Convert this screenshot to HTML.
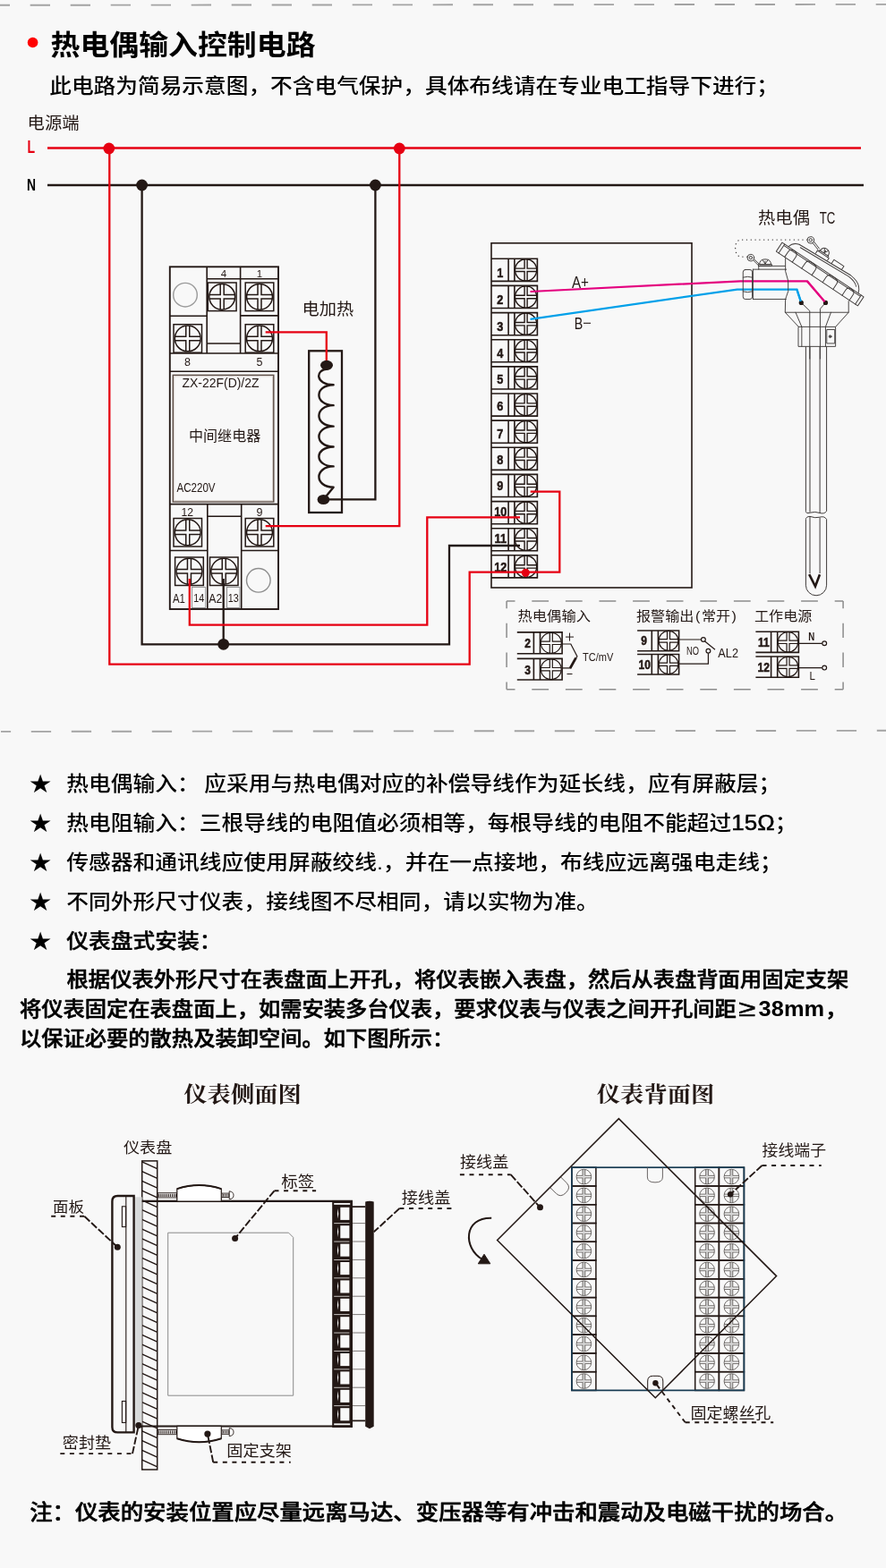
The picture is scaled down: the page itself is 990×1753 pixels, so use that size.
<!DOCTYPE html>
<html lang="zh-CN">
<head>
<meta charset="utf-8">
<title>热电偶输入控制电路</title>
<style>
html,body{margin:0;padding:0;background:#f8f8f8;}
body{width:990px;height:1753px;overflow:hidden;position:relative;font-family:"Liberation Sans","Noto Sans CJK SC",sans-serif;}
svg{position:absolute;left:0;top:0;display:block;}
text{white-space:pre;}
svg{will-change:transform;}
</style>
</head>
<body>
<svg width="990" height="1753" viewBox="0 0 990 1753">
<rect x="0" y="0" width="990" height="1753" fill="#f8f8f8"/>
<line x1="-11.3" y1="5.8" x2="990" y2="4.85" stroke="#a3a3a3" stroke-width="1.9" stroke-dasharray="22.3 22.7"/>
<line x1="1" y1="817.9" x2="990" y2="816.8" stroke="#a3a3a3" stroke-width="1.9" stroke-dasharray="22.3 22.7" stroke-dashoffset="11.2"/>
<circle cx="36.6" cy="47.5" r="5.8" fill="#ff0000"/>
<text transform="translate(56.5 61.2) scale(1 0.945)" font-size="32.9" font-weight="700" fill="#000" font-family='"Liberation Sans","Noto Sans CJK SC",sans-serif' text-anchor="start" >热电偶输入控制电路</text>
<text transform="translate(55.2 103.9) scale(1 0.905)" font-size="24.7" font-weight="500" fill="#000" font-family='"Liberation Sans","Noto Sans CJK SC",sans-serif' text-anchor="start" >此电路为简易示意图，不含电气保护，具体布线请在专业电工指导下进行；</text>
<text transform="translate(30.6 144) scale(1.04 1)" font-size="18.6" font-weight="400" fill="#231815" font-family='"Liberation Sans","Noto Sans CJK SC",sans-serif' text-anchor="start" >电源端</text>
<text x="30.6" y="171" font-size="19.5" font-weight="700" fill="#e60012" font-family='"Liberation Sans","Noto Sans CJK SC",sans-serif' text-anchor="start" textLength="8.6" lengthAdjust="spacingAndGlyphs" >L</text>
<text x="30" y="213.2" font-size="19" font-weight="700" fill="#000" font-family='"Liberation Sans","Noto Sans CJK SC",sans-serif' text-anchor="start" textLength="10" lengthAdjust="spacingAndGlyphs" >N</text>
<g fill="none">
<rect x="189.8" y="298.3" width="121.2" height="382.7" stroke="#231815" stroke-width="1.9" fill="none" />
<path d="M231.2 298.3V395 M268.6 298.3V395 M231.2 311.7H311 M189.8 353.3H231.2 M268.6 352.9H311 M231.2 384H268.6 M189.8 395H311 M189.8 415.3H311" stroke="#231815" stroke-width="1.6" fill="none" />
<circle cx="207" cy="329.7" r="13.3" stroke="#9a9a9a" stroke-width="1.4" fill="none"/>
<rect x="232.3" y="316" width="31.80000000000001" height="31.600000000000023" stroke="#231815" stroke-width="1.5" fill="none" />
<circle cx="248.20000000000002" cy="331.8" r="14.4" stroke="#231815" stroke-width="1.5" fill="none"/>
<path d="M246.20 317.54V329.60H233.97M250.20 317.54V329.60H262.43M246.20 346.06V334.00H233.97M250.20 346.06V334.00H262.43" stroke="#231815" stroke-width="1.5" fill="none" />
<rect x="274.2" y="316" width="31.600000000000023" height="31.600000000000023" stroke="#231815" stroke-width="1.5" fill="none" />
<circle cx="290.0" cy="331.8" r="14.4" stroke="#231815" stroke-width="1.5" fill="none"/>
<path d="M288.00 317.54V329.60H275.77M292.00 317.54V329.60H304.23M288.00 346.06V334.00H275.77M292.00 346.06V334.00H304.23" stroke="#231815" stroke-width="1.5" fill="none" />
<rect x="194" y="362.7" width="31.5" height="31.5" stroke="#231815" stroke-width="1.5" fill="none" />
<circle cx="209.75" cy="378.45" r="14.4" stroke="#231815" stroke-width="1.5" fill="none"/>
<path d="M207.75 364.19V376.25H195.52M211.75 364.19V376.25H223.98M207.75 392.71V380.65H195.52M211.75 392.71V380.65H223.98" stroke="#231815" stroke-width="1.5" fill="none" />
<rect x="274.2" y="362.7" width="31.600000000000023" height="31.5" stroke="#231815" stroke-width="1.5" fill="none" />
<circle cx="290.0" cy="378.45" r="14.4" stroke="#231815" stroke-width="1.5" fill="none"/>
<path d="M288.00 364.19V376.25H275.77M292.00 364.19V376.25H304.23M288.00 392.71V380.65H275.77M292.00 392.71V380.65H304.23" stroke="#231815" stroke-width="1.5" fill="none" />
<rect x="193.3" y="419.4" width="112.5" height="141.6" stroke="#5f5049" stroke-width="1.5" fill="none" />
<rect x="194.6" y="420.7" width="109.9" height="139" stroke="#d9d2ce" stroke-width="1" fill="none" />
<path d="M189.8 563.6H311 M231.8 563.6V681 M269.7 563.6V681 M231.8 577.3H269.7 M189.8 615.5H231.8 M269.7 615.5H311" stroke="#231815" stroke-width="1.6" fill="none" />
<rect x="194" y="579.5" width="31.5" height="31.5" stroke="#231815" stroke-width="1.5" fill="none" />
<circle cx="209.75" cy="595.25" r="14.4" stroke="#231815" stroke-width="1.5" fill="none"/>
<path d="M207.75 580.99V593.05H195.52M211.75 580.99V593.05H223.98M207.75 609.51V597.45H195.52M211.75 609.51V597.45H223.98" stroke="#231815" stroke-width="1.5" fill="none" />
<rect x="274.2" y="579.5" width="31.600000000000023" height="31.5" stroke="#231815" stroke-width="1.5" fill="none" />
<circle cx="290.0" cy="595.25" r="14.4" stroke="#231815" stroke-width="1.5" fill="none"/>
<path d="M288.00 580.99V593.05H275.77M292.00 580.99V593.05H304.23M288.00 609.51V597.45H275.77M292.00 609.51V597.45H304.23" stroke="#231815" stroke-width="1.5" fill="none" />
<rect x="195.6" y="623" width="31.700000000000017" height="31.5" stroke="#231815" stroke-width="1.5" fill="none" />
<circle cx="211.45" cy="638.75" r="14.4" stroke="#231815" stroke-width="1.5" fill="none"/>
<path d="M209.45 624.49V636.55H197.22M213.45 624.49V636.55H225.68M209.45 653.01V640.95H197.22M213.45 653.01V640.95H225.68" stroke="#231815" stroke-width="1.5" fill="none" />
<rect x="234.5" y="623" width="31.5" height="31.5" stroke="#231815" stroke-width="1.5" fill="none" />
<circle cx="250.25" cy="638.75" r="14.4" stroke="#231815" stroke-width="1.5" fill="none"/>
<path d="M248.25 624.49V636.55H236.02M252.25 624.49V636.55H264.48M248.25 653.01V640.95H236.02M252.25 653.01V640.95H264.48" stroke="#231815" stroke-width="1.5" fill="none" />
<circle cx="288.8" cy="648.8" r="13.3" stroke="#8f8f8f" stroke-width="1.4" fill="none"/>
<rect x="214.5" y="656.4" width="15.2" height="23.1" stroke="#8f8f8f" stroke-width="1" fill="none" />
<rect x="253.5" y="656.4" width="14.4" height="23.1" stroke="#8f8f8f" stroke-width="1" fill="none" />
</g>
<text x="250" y="309.8" font-size="11.5" font-weight="400" fill="#231815" font-family='"Liberation Sans","Noto Sans CJK SC",sans-serif' text-anchor="middle" >4</text>
<text x="290" y="309.8" font-size="11.5" font-weight="400" fill="#231815" font-family='"Liberation Sans","Noto Sans CJK SC",sans-serif' text-anchor="middle" >1</text>
<text x="209.5" y="409.2" font-size="12.5" font-weight="400" fill="#231815" font-family='"Liberation Sans","Noto Sans CJK SC",sans-serif' text-anchor="middle" >8</text>
<text x="290" y="409.2" font-size="12.5" font-weight="400" fill="#231815" font-family='"Liberation Sans","Noto Sans CJK SC",sans-serif' text-anchor="middle" >5</text>
<text x="203.5" y="433.4" font-size="14.5" font-weight="400" fill="#231815" font-family='"Liberation Sans","Noto Sans CJK SC",sans-serif' text-anchor="start" textLength="86" lengthAdjust="spacingAndGlyphs" >ZX-22F(D)/2Z</text>
<text transform="translate(211 493.2) scale(1.03 1)" font-size="15.6" font-weight="400" fill="#231815" font-family='"Liberation Sans","Noto Sans CJK SC",sans-serif' text-anchor="start" >中间继电器</text>
<text x="197.4" y="550.4" font-size="14.5" font-weight="400" fill="#231815" font-family='"Liberation Sans","Noto Sans CJK SC",sans-serif' text-anchor="start" textLength="43.2" lengthAdjust="spacingAndGlyphs" >AC220V</text>
<text x="209.2" y="576.6" font-size="12.5" font-weight="400" fill="#231815" font-family='"Liberation Sans","Noto Sans CJK SC",sans-serif' text-anchor="middle" textLength="13.6" lengthAdjust="spacingAndGlyphs" >12</text>
<text x="290" y="576.6" font-size="12.5" font-weight="400" fill="#231815" font-family='"Liberation Sans","Noto Sans CJK SC",sans-serif' text-anchor="middle" >9</text>
<text x="192.9" y="673.6" font-size="14.5" font-weight="400" fill="#231815" font-family='"Liberation Sans","Noto Sans CJK SC",sans-serif' text-anchor="start" textLength="14" lengthAdjust="spacingAndGlyphs" >A1</text>
<text x="233.3" y="673.6" font-size="14.5" font-weight="400" fill="#231815" font-family='"Liberation Sans","Noto Sans CJK SC",sans-serif' text-anchor="start" textLength="15" lengthAdjust="spacingAndGlyphs" >A2</text>
<text x="222.2" y="672.8" font-size="12" font-weight="400" fill="#231815" font-family='"Liberation Sans","Noto Sans CJK SC",sans-serif' text-anchor="middle" textLength="12" lengthAdjust="spacingAndGlyphs" >14</text>
<text x="260.8" y="672.8" font-size="12" font-weight="400" fill="#231815" font-family='"Liberation Sans","Noto Sans CJK SC",sans-serif' text-anchor="middle" textLength="12" lengthAdjust="spacingAndGlyphs" >13</text>
<text transform="translate(337.6 352.2) scale(1.04 1)" font-size="18.5" font-weight="400" fill="#231815" font-family='"Liberation Sans","Noto Sans CJK SC",sans-serif' text-anchor="start" >电加热</text>
<rect x="345.2" y="392.3" width="36.8" height="180.7" stroke="#231815" stroke-width="2.3" fill="none" />
<path d="M366 412.5 C352 413 352 430.2 372.6 430.2 M372.6 430.2 C351 430.7 351 452.6 372.6 453.1 M372.6 453.1 C351 453.6 351 476.1 372.6 476.6 M372.6 476.6 C351 477.1 351 499.0 372.6 499.5 M372.6 499.5 C351 500.0 351 520.9 372.6 521.4 M372.6 521.4 C351 521.9 351 544.3 372.6 544.8 L361.4 558.5" stroke="#231815" stroke-width="2.4" fill="none" stroke-linecap="round" stroke-linejoin="round"/>
<rect x="549" y="271.8" width="224" height="385.2" stroke="#231815" stroke-width="1.6" fill="none" />
<path d="M549 289.3H600.4V314.4H549 M568.1 289.3V314.4 M574.9 289.3V314.4" stroke="#231815" stroke-width="1.6" fill="none" />
<circle cx="587.6" cy="301.85" r="12.1" stroke="#231815" stroke-width="1.4" fill="none"/>
<path d="M586.10 289.84V300.15H575.62M589.10 289.84V300.15H599.58M586.10 313.86V303.55H575.62M589.10 313.86V303.55H599.58" stroke="#231815" stroke-width="1.4" fill="none" />
<text transform="translate(558.8 310.0) scale(0.86 1)" font-size="14.8" font-weight="700" fill="#231815" font-family='"Liberation Sans","Noto Sans CJK SC",sans-serif' text-anchor="middle" stroke="#231815" stroke-width="0.5">1</text>
<path d="M549 319.4H600.4V344.5H549 M568.1 319.4V344.5 M574.9 319.4V344.5" stroke="#231815" stroke-width="1.6" fill="none" />
<circle cx="587.6" cy="331.99" r="12.1" stroke="#231815" stroke-width="1.4" fill="none"/>
<path d="M586.10 319.98V330.29H575.62M589.10 319.98V330.29H599.58M586.10 344.00V333.69H575.62M589.10 344.00V333.69H599.58" stroke="#231815" stroke-width="1.4" fill="none" />
<text transform="translate(558.8 340.1) scale(0.86 1)" font-size="14.8" font-weight="700" fill="#231815" font-family='"Liberation Sans","Noto Sans CJK SC",sans-serif' text-anchor="middle" stroke="#231815" stroke-width="0.5">2</text>
<path d="M549 349.6H600.4V374.7H549 M568.1 349.6V374.7 M574.9 349.6V374.7" stroke="#231815" stroke-width="1.6" fill="none" />
<circle cx="587.6" cy="362.13000000000005" r="12.1" stroke="#231815" stroke-width="1.4" fill="none"/>
<path d="M586.10 350.12V360.43H575.62M589.10 350.12V360.43H599.58M586.10 374.14V363.83H575.62M589.10 374.14V363.83H599.58" stroke="#231815" stroke-width="1.4" fill="none" />
<text transform="translate(558.8 369.8) scale(0.86 1)" font-size="14.8" font-weight="700" fill="#231815" font-family='"Liberation Sans","Noto Sans CJK SC",sans-serif' text-anchor="middle" stroke="#231815" stroke-width="0.5">3</text>
<path d="M549 379.7H600.4V404.8H549 M568.1 379.7V404.8 M574.9 379.7V404.8" stroke="#231815" stroke-width="1.6" fill="none" />
<circle cx="587.6" cy="392.27000000000004" r="12.1" stroke="#231815" stroke-width="1.4" fill="none"/>
<path d="M586.10 380.26V390.57H575.62M589.10 380.26V390.57H599.58M586.10 404.28V393.97H575.62M589.10 404.28V393.97H599.58" stroke="#231815" stroke-width="1.4" fill="none" />
<text transform="translate(558.8 400.0) scale(0.86 1)" font-size="14.8" font-weight="700" fill="#231815" font-family='"Liberation Sans","Noto Sans CJK SC",sans-serif' text-anchor="middle" stroke="#231815" stroke-width="0.5">4</text>
<path d="M549 409.9H600.4V435.0H549 M568.1 409.9V435.0 M574.9 409.9V435.0" stroke="#231815" stroke-width="1.6" fill="none" />
<circle cx="587.6" cy="422.41" r="12.1" stroke="#231815" stroke-width="1.4" fill="none"/>
<path d="M586.10 410.40V420.71H575.62M589.10 410.40V420.71H599.58M586.10 434.42V424.11H575.62M589.10 434.42V424.11H599.58" stroke="#231815" stroke-width="1.4" fill="none" />
<text transform="translate(558.8 429.4) scale(0.86 1)" font-size="14.8" font-weight="700" fill="#231815" font-family='"Liberation Sans","Noto Sans CJK SC",sans-serif' text-anchor="middle" stroke="#231815" stroke-width="0.5">5</text>
<path d="M549 440.0H600.4V465.1H549 M568.1 440.0V465.1 M574.9 440.0V465.1" stroke="#231815" stroke-width="1.6" fill="none" />
<circle cx="587.6" cy="452.55" r="12.1" stroke="#231815" stroke-width="1.4" fill="none"/>
<path d="M586.10 440.54V450.85H575.62M589.10 440.54V450.85H599.58M586.10 464.56V454.25H575.62M589.10 464.56V454.25H599.58" stroke="#231815" stroke-width="1.4" fill="none" />
<text transform="translate(558.8 459.4) scale(0.86 1)" font-size="14.8" font-weight="700" fill="#231815" font-family='"Liberation Sans","Noto Sans CJK SC",sans-serif' text-anchor="middle" stroke="#231815" stroke-width="0.5">6</text>
<path d="M549 470.1H600.4V495.2H549 M568.1 470.1V495.2 M574.9 470.1V495.2" stroke="#231815" stroke-width="1.6" fill="none" />
<circle cx="587.6" cy="482.69" r="12.1" stroke="#231815" stroke-width="1.4" fill="none"/>
<path d="M586.10 470.68V480.99H575.62M589.10 470.68V480.99H599.58M586.10 494.70V484.39H575.62M589.10 494.70V484.39H599.58" stroke="#231815" stroke-width="1.4" fill="none" />
<text transform="translate(558.8 489.5) scale(0.86 1)" font-size="14.8" font-weight="700" fill="#231815" font-family='"Liberation Sans","Noto Sans CJK SC",sans-serif' text-anchor="middle" stroke="#231815" stroke-width="0.5">7</text>
<path d="M549 500.3H600.4V525.4H549 M568.1 500.3V525.4 M574.9 500.3V525.4" stroke="#231815" stroke-width="1.6" fill="none" />
<circle cx="587.6" cy="512.83" r="12.1" stroke="#231815" stroke-width="1.4" fill="none"/>
<path d="M586.10 500.82V511.13H575.62M589.10 500.82V511.13H599.58M586.10 524.84V514.53H575.62M589.10 524.84V514.53H599.58" stroke="#231815" stroke-width="1.4" fill="none" />
<text transform="translate(558.8 519.2) scale(0.86 1)" font-size="14.8" font-weight="700" fill="#231815" font-family='"Liberation Sans","Noto Sans CJK SC",sans-serif' text-anchor="middle" stroke="#231815" stroke-width="0.5">8</text>
<path d="M549 530.4H600.4V555.5H549 M568.1 530.4V555.5 M574.9 530.4V555.5" stroke="#231815" stroke-width="1.6" fill="none" />
<circle cx="587.6" cy="542.97" r="12.1" stroke="#231815" stroke-width="1.4" fill="none"/>
<path d="M586.10 530.96V541.27H575.62M589.10 530.96V541.27H599.58M586.10 554.98V544.67H575.62M589.10 554.98V544.67H599.58" stroke="#231815" stroke-width="1.4" fill="none" />
<text transform="translate(558.8 548.2) scale(0.86 1)" font-size="14.8" font-weight="700" fill="#231815" font-family='"Liberation Sans","Noto Sans CJK SC",sans-serif' text-anchor="middle" stroke="#231815" stroke-width="0.5">9</text>
<path d="M549 560.6H600.4V585.7H549 M568.1 560.6V585.7 M574.9 560.6V585.7" stroke="#231815" stroke-width="1.6" fill="none" />
<circle cx="587.6" cy="573.1099999999999" r="12.1" stroke="#231815" stroke-width="1.4" fill="none"/>
<path d="M586.10 561.10V571.41H575.62M589.10 561.10V571.41H599.58M586.10 585.12V574.81H575.62M589.10 585.12V574.81H599.58" stroke="#231815" stroke-width="1.4" fill="none" />
<text transform="translate(559.3 576.5) scale(0.86 1)" font-size="14.8" font-weight="700" fill="#231815" font-family='"Liberation Sans","Noto Sans CJK SC",sans-serif' text-anchor="middle" stroke="#231815" stroke-width="0.5">10</text>
<path d="M549 590.7H600.4V615.8H549 M568.1 590.7V615.8 M574.9 590.7V615.8" stroke="#231815" stroke-width="1.6" fill="none" />
<circle cx="587.6" cy="603.25" r="12.1" stroke="#231815" stroke-width="1.4" fill="none"/>
<path d="M586.10 591.24V601.55H575.62M589.10 591.24V601.55H599.58M586.10 615.26V604.95H575.62M589.10 615.26V604.95H599.58" stroke="#231815" stroke-width="1.4" fill="none" />
<text transform="translate(559.3 607.4) scale(0.86 1)" font-size="14.8" font-weight="700" fill="#231815" font-family='"Liberation Sans","Noto Sans CJK SC",sans-serif' text-anchor="middle" stroke="#231815" stroke-width="0.5">11</text>
<path d="M549 620.8H600.4V645.9H549 M568.1 620.8V645.9 M574.9 620.8V645.9" stroke="#231815" stroke-width="1.6" fill="none" />
<circle cx="587.6" cy="633.39" r="12.1" stroke="#231815" stroke-width="1.4" fill="none"/>
<path d="M586.10 621.38V631.69H575.62M589.10 621.38V631.69H599.58M586.10 645.40V635.09H575.62M589.10 645.40V635.09H599.58" stroke="#231815" stroke-width="1.4" fill="none" />
<text transform="translate(559.3 638.6) scale(0.86 1)" font-size="14.8" font-weight="700" fill="#231815" font-family='"Liberation Sans","Noto Sans CJK SC",sans-serif' text-anchor="middle" stroke="#231815" stroke-width="0.5">12</text>
<g fill="none" stroke-width="2.3" stroke-linejoin="miter">
<path d="M53 165.5H962" stroke="#e60012"/>
<path d="M53 207H965" stroke="#231815"/>
<path d="M122.3 166V742.6H524.7V639.6H625.3V549.7H592.7" stroke="#e60012"/>
<path d="M158.6 207V720.3H502V610H581" stroke="#231815"/>
<path d="M249.7 647V720.3" stroke="#231815"/>
<path d="M211.8 647V698.7H477.3V578.3H581" stroke="#e60012"/>
<path d="M419.4 207V558.3H361.4" stroke="#231815"/>
<path d="M446.3 166V588.2H296.7" stroke="#e60012"/>
<path d="M296.7 371.3H364.8V408" stroke="#e60012"/>
<path d="M592.5 326L827.4 314.3H901.9L922.5 338.4" stroke="#e4007f" stroke-width="2.2"/>
<path d="M592.5 356.8L823.7 323.6H890.4L895.3 338.4" stroke="#00a0e9" stroke-width="2.2"/>
</g>
<circle cx="121.8" cy="166" r="6.4" fill="#e60012"/>
<circle cx="446.3" cy="166" r="6.4" fill="#e60012"/>
<circle cx="158.6" cy="207" r="6.4" fill="#231815"/>
<circle cx="419.4" cy="207" r="6.4" fill="#231815"/>
<circle cx="249.7" cy="720.3" r="6.4" fill="#231815"/>
<circle cx="587.3" cy="640.3" r="4.6" fill="#e60012"/>
<ellipse cx="365" cy="408.3" rx="7" ry="5.5" fill="#231815"/>
<ellipse cx="361.4" cy="558.5" rx="6.8" ry="5.6" fill="#231815"/>
<text x="639" y="321.8" font-size="17.5" font-weight="400" fill="#231815" font-family='"Liberation Sans","Noto Sans CJK SC",sans-serif' text-anchor="start" textLength="19" lengthAdjust="spacingAndGlyphs" >A+</text>
<text x="641.8" y="368" font-size="17.5" font-weight="400" fill="#231815" font-family='"Liberation Sans","Noto Sans CJK SC",sans-serif' text-anchor="start" textLength="9.5" lengthAdjust="spacingAndGlyphs" >B</text>
<line x1="652" y1="361.3" x2="660" y2="361.3" stroke="#231815" stroke-width="1.1" />
<text transform="translate(847 249.8) scale(1.04 0.95)" font-size="18.6" font-weight="400" fill="#231815" font-family='"Liberation Sans","Noto Sans CJK SC",sans-serif' text-anchor="start" >热电偶</text>
<text x="915.8" y="249.8" font-size="17.5" font-weight="400" fill="#231815" font-family='"Liberation Sans","Noto Sans CJK SC",sans-serif' text-anchor="start" textLength="17.6" lengthAdjust="spacingAndGlyphs" >TC</text>
<g transform="translate(810,250) scale(0.1717)" fill="none" stroke="#3e3a39" stroke-width="5.5" stroke-linejoin="round" stroke-linecap="round">
<path d="M535 105H105Q68 108 68 160Q70 212 105 216H146" stroke-dasharray="1 27" stroke-width="7.5"/>
<circle cx="558" cy="107" r="22"/><circle cx="558" cy="107" r="10"/>
<circle cx="168" cy="222" r="22"/><circle cx="168" cy="222" r="10"/>
<path d="M570 124L606 170 M580 118L614 162"/>
<path d="M184 238L216 270 M190 232L222 262"/>
<path d="M225 265Q225 232 262 232Q300 232 300 265Z M245 237L262 262L280 237 M262 262V245"/>
<path d="M220 265H305V276H220Z"/>
<path d="M220 276V298 M220 276H392"/>
<path d="M183 298H400 M183 492H398 M183 298V492"/>
<path d="M133 300H163Q178 300 178 315V477Q178 492 163 492H133Q118 492 118 477V315Q118 300 133 300Z M118 350Q148 340 178 350 M118 442Q148 452 178 442"/>
<path d="M394 225V310Q420 370 412 440Q398 480 394 492L392 578H805V505"/>
</g>
<g transform="translate(867.33,281.11) rotate(33.7)" fill="none" stroke="#3e3a39" stroke-width="0.95" stroke-linejoin="round" stroke-linecap="round">
<path d="M0 0H109.5V-12H0Z" fill="#f8f8f8"/>
<path d="M3.3 0V-12 M106.2 0V-12 M3.3 -10.3H106.2"/>
<path d="M11.3 0V-7.1Q11.3 -11.6 15.8 -11.6H17.1Q21.6 -11.6 21.6 -7.1V0 M34.2 0V-7.1Q34.2 -11.6 38.7 -11.6H43.3Q47.8 -11.6 47.8 -7.1V0 M62.3 0V-7.1Q62.3 -11.6 66.8 -11.6H71.8Q76.3 -11.6 76.3 -7.1V0 M88.5 0V-7.1Q88.5 -11.6 93.0 -11.6H93.8Q98.3 -11.6 98.3 -7.1V0 "/>
<path d="M8.3 -12Q10 -19 17 -20.8L84 -24Q95 -23 98.5 -18.5Q101.5 -15.5 102.2 -12"/>
<path d="M20 -18.6L83 -21.6Q92 -21 96 -17"/>
<path d="M37.8 -22.9V-26.4H53.2V-23.5 M39.5 -26.4V-28H51.5V-26.4 M40.2 -28Q40.4 -33.6 45.5 -33.6Q50.8 -33.6 50.9 -28 M43 -33L45.5 -28.5L48.2 -33 M45.5 -28.5V-31.5"/>
<path d="M58.9 -23.4V-28.2H72.1V-23.8"/>
</g>
<g transform="translate(810,250) scale(0.1717)" fill="none" stroke="#3e3a39" stroke-width="5.5" stroke-linejoin="round" stroke-linecap="round">
<path d="M497 515L552 568V880 M655 515L620 555V880"/>
<path d="M392 578L480 672 M805 578L720 672 M460 578L500 672 M690 578L655 672"/>
<path d="M480 672H720V800H480Z M500 672V800 M655 672V800"/>
<path d="M665 690H715V780H665Z"/><circle cx="685" cy="735" r="8"/><circle cx="685" cy="735" r="3" fill="#3e3a39"/>
</g>
<circle cx="895.3" cy="338.4" r="2.6" fill="#231815"/>
<circle cx="922.5" cy="338.4" r="2.6" fill="#231815"/>
<path d="M901.9 314.3L921.6 337.4" stroke="#e4007f" stroke-width="2.2" fill="none"/>
<path d="M890.4 323.6L894.8 337" stroke="#00a0e9" stroke-width="2.2" fill="none"/>
<g fill="none" stroke="#3e3a39" stroke-width="1">
<path d="M900.4 387.4V571.5 M923.6 387.4V571.5 M905 387.4V572.5 M916.1 387.4V573.5"/>
<path d="M900.4 571.5Q900.5 574.5 905 573.2Q911 571.5 916 573.5Q921 575 923.6 571.5"/>
<path d="M900.4 580.5Q900.6 577.6 905 577.4Q911 579.6 916 578.2Q921 576.6 923.6 580.5"/>
<path d="M900.4 580.5V654.2A11.6 11.6 0 0 0 923.6 654.2V580.5 M905 578V641 M916.1 579V641"/>
</g>
<path d="M904.2 642.2L911 655.5L916 642.2" stroke="#231815" stroke-width="2.6" fill="none" stroke-linejoin="miter"/>
<line x1="566.1" y1="672" x2="942.1" y2="672" stroke="#8c8c8c" stroke-width="1.5" stroke-dasharray="18.80 18.80" stroke-dashoffset="9.40"/>
<line x1="566.1" y1="770.7" x2="942.1" y2="770.7" stroke="#8c8c8c" stroke-width="1.5" stroke-dasharray="18.80 18.80" stroke-dashoffset="9.40"/>
<line x1="566.1" y1="672" x2="566.1" y2="770.7" stroke="#8c8c8c" stroke-width="1.5" stroke-dasharray="16.45 16.45" stroke-dashoffset="8.23"/>
<line x1="942.1" y1="672" x2="942.1" y2="770.7" stroke="#8c8c8c" stroke-width="1.5" stroke-dasharray="16.45 16.45" stroke-dashoffset="8.23"/>
<text transform="translate(578.6 693.9) scale(1.03 0.96)" font-size="15.8" font-weight="400" fill="#231815" font-family='"Liberation Sans","Noto Sans CJK SC",sans-serif' text-anchor="start" >热电偶输入</text>
<text transform="translate(711 693.9) scale(1.02 0.96)" font-size="15.8" font-weight="400" fill="#231815" font-family='"Liberation Sans","Noto Sans CJK SC",sans-serif' text-anchor="start" >报警输出<tspan dx='1.5'>(</tspan><tspan dx='1.6'>常开</tspan><tspan dx='1.4'>)</tspan></text>
<text transform="translate(843 693.9) scale(1.02 0.96)" font-size="15.8" font-weight="400" fill="#231815" font-family='"Liberation Sans","Noto Sans CJK SC",sans-serif' text-anchor="start" >工作电源</text>
<path d="M577.8 706.9H628.1V730.7H577.8 M596.4 706.9V730.7 M603.5 706.9V730.7" stroke="#231815" stroke-width="1.6" fill="none" />
<circle cx="615.8" cy="718.8" r="11.500000000000034" stroke="#231815" stroke-width="1.2" fill="none"/>
<path d="M614.30 707.40V717.10H604.43M617.30 707.40V717.10H627.17M614.30 730.20V720.50H604.43M617.30 730.20V720.50H627.17" stroke="#231815" stroke-width="1.2" fill="none" />
<text transform="translate(589.7 724.4000000000001) scale(0.86 1)" font-size="14" font-weight="700" fill="#231815" font-family='"Liberation Sans","Noto Sans CJK SC",sans-serif' text-anchor="middle" stroke="#231815" stroke-width="0.5">2</text>
<path d="M577.8 736.4H628.1V760H577.8 M596.4 736.4V760 M603.5 736.4V760" stroke="#231815" stroke-width="1.6" fill="none" />
<circle cx="615.8" cy="748.2" r="11.400000000000011" stroke="#231815" stroke-width="1.2" fill="none"/>
<path d="M614.30 736.90V746.50H604.53M617.30 736.90V746.50H627.07M614.30 759.50V749.90H604.53M617.30 759.50V749.90H627.07" stroke="#231815" stroke-width="1.2" fill="none" />
<text transform="translate(589.7 753.7) scale(0.86 1)" font-size="14" font-weight="700" fill="#231815" font-family='"Liberation Sans","Noto Sans CJK SC",sans-serif' text-anchor="middle" stroke="#231815" stroke-width="0.5">3</text>
<path d="M712.1 705H758.6V727.7H712.1 M728.3 705V727.7 M735.4 705V727.7" stroke="#231815" stroke-width="1.6" fill="none" />
<circle cx="747.0" cy="716.35" r="10.950000000000022" stroke="#231815" stroke-width="1.2" fill="none"/>
<path d="M745.50 705.50V714.65H736.18M748.50 705.50V714.65H757.82M745.50 727.20V718.05H736.18M748.50 727.20V718.05H757.82" stroke="#231815" stroke-width="1.2" fill="none" />
<text transform="translate(719.7 721.4000000000001) scale(0.86 1)" font-size="14" font-weight="700" fill="#231815" font-family='"Liberation Sans","Noto Sans CJK SC",sans-serif' text-anchor="middle" stroke="#231815" stroke-width="0.5">9</text>
<path d="M712.1 731.5H758.6V754H712.1 M728.3 731.5V754 M735.4 731.5V754" stroke="#231815" stroke-width="1.6" fill="none" />
<circle cx="747.0" cy="742.75" r="10.85" stroke="#231815" stroke-width="1.2" fill="none"/>
<path d="M745.50 732.00V741.05H736.28M748.50 732.00V741.05H757.72M745.50 753.50V744.45H736.28M748.50 753.50V744.45H757.72" stroke="#231815" stroke-width="1.2" fill="none" />
<text transform="translate(720.2 747.7) scale(0.86 1)" font-size="14" font-weight="700" fill="#231815" font-family='"Liberation Sans","Noto Sans CJK SC",sans-serif' text-anchor="middle" stroke="#231815" stroke-width="0.5">10</text>
<path d="M844.4 706.2H892.4V729.4H844.4 M861.6 706.2V729.4 M868.7 706.2V729.4" stroke="#231815" stroke-width="1.6" fill="none" />
<circle cx="880.55" cy="717.8" r="11.199999999999966" stroke="#231815" stroke-width="1.2" fill="none"/>
<path d="M879.05 706.70V716.10H869.48M882.05 706.70V716.10H891.62M879.05 728.90V719.50H869.48M882.05 728.90V719.50H891.62" stroke="#231815" stroke-width="1.2" fill="none" />
<text transform="translate(853.3 723.1) scale(0.86 1)" font-size="14" font-weight="700" fill="#231815" font-family='"Liberation Sans","Noto Sans CJK SC",sans-serif' text-anchor="middle" stroke="#231815" stroke-width="0.5">11</text>
<path d="M844.4 734H892.4V757.2H844.4 M861.6 734V757.2 M868.7 734V757.2" stroke="#231815" stroke-width="1.6" fill="none" />
<circle cx="880.55" cy="745.6" r="11.200000000000022" stroke="#231815" stroke-width="1.2" fill="none"/>
<path d="M879.05 734.50V743.90H869.48M882.05 734.50V743.90H891.62M879.05 756.70V747.30H869.48M882.05 756.70V747.30H891.62" stroke="#231815" stroke-width="1.2" fill="none" />
<text transform="translate(853.3 750.9000000000001) scale(0.86 1)" font-size="14" font-weight="700" fill="#231815" font-family='"Liberation Sans","Noto Sans CJK SC",sans-serif' text-anchor="middle" stroke="#231815" stroke-width="0.5">12</text>
<path d="M628.1 720H637.8L644.9 733.7L637.8 746.9H628.1" stroke="#231815" stroke-width="1.2" fill="none" />
<path d="M643.5 735.5L637 747" stroke="#231815" stroke-width="2.6" fill="none" />
<path d="M632 712.1H641 M636.5 707.6V716.6" stroke="#231815" stroke-width="1" fill="none" />
<path d="M633.5 753.5H639.5" stroke="#231815" stroke-width="1" fill="none" />
<text x="651" y="738.8" font-size="12.5" font-weight="400" fill="#231815" font-family='"Liberation Sans","Noto Sans CJK SC",sans-serif' text-anchor="start" textLength="34.3" lengthAdjust="spacingAndGlyphs" >TC/mV</text>
<path d="M758.6 715H783.4 M787.3 716.8L799 726.2 M791.4 730.2V742.1H758.6" stroke="#231815" stroke-width="1.2" fill="none" />
<circle cx="785.9" cy="715" r="2.4" stroke="#231815" stroke-width="1.2" fill="none"/>
<circle cx="791.4" cy="727.7" r="2.4" stroke="#231815" stroke-width="1.2" fill="none"/>
<text x="766.9" y="732" font-size="12.5" font-weight="400" fill="#231815" font-family='"Liberation Sans","Noto Sans CJK SC",sans-serif' text-anchor="start" textLength="14" lengthAdjust="spacingAndGlyphs" >NO</text>
<text x="802.3" y="735" font-size="15.5" font-weight="400" fill="#231815" font-family='"Liberation Sans","Noto Sans CJK SC",sans-serif' text-anchor="start" textLength="22.7" lengthAdjust="spacingAndGlyphs" >AL2</text>
<path d="M892.4 719.3H918.7 M892.4 746.6H918.7" stroke="#231815" stroke-width="1.2" fill="none" />
<circle cx="921.2" cy="719.3" r="2.4" stroke="#231815" stroke-width="1.2" fill="none"/>
<circle cx="921.2" cy="746.6" r="2.4" stroke="#231815" stroke-width="1.2" fill="none"/>
<text x="903.3" y="716" font-size="12" font-weight="700" fill="#231815" font-family='"Liberation Sans","Noto Sans CJK SC",sans-serif' text-anchor="start" textLength="7" lengthAdjust="spacingAndGlyphs" >N</text>
<text x="904.5" y="759.8" font-size="12" font-weight="400" fill="#231815" font-family='"Liberation Sans","Noto Sans CJK SC",sans-serif' text-anchor="start" textLength="6.4" lengthAdjust="spacingAndGlyphs" >L</text>
<text transform="translate(32.8 884) scale(1 0.925)" font-size="24.8" font-weight="500" fill="#000" font-family='"Liberation Sans","Noto Sans CJK SC",sans-serif' text-anchor="start" >★</text>
<text transform="translate(74.2 884) scale(1 0.925)" font-size="24.78" font-weight="500" fill="#000" font-family='"Liberation Sans","Noto Sans CJK SC",sans-serif' text-anchor="start" >热电偶输入：<tspan dx='-1.4'> </tspan>应采用与热电偶对应的补偿导线作为延长线，应有屏蔽层；</text>
<text transform="translate(32.8 927.8) scale(1 0.925)" font-size="24.8" font-weight="500" fill="#000" font-family='"Liberation Sans","Noto Sans CJK SC",sans-serif' text-anchor="start" >★</text>
<text transform="translate(74.2 927.8) scale(1 0.925)" font-size="24.78" font-weight="500" fill="#000" font-family='"Liberation Sans","Noto Sans CJK SC",sans-serif' text-anchor="start" >热电阻输入：三根导线的电阻值必须相等，每根导线的电阻不能超过<tspan font-size='26' stroke='#000' stroke-width='0.5'>15Ω</tspan>；</text>
<text transform="translate(32.8 972) scale(1 0.925)" font-size="24.8" font-weight="500" fill="#000" font-family='"Liberation Sans","Noto Sans CJK SC",sans-serif' text-anchor="start" >★</text>
<text transform="translate(74.2 972) scale(1 0.925)" font-size="24.78" font-weight="500" fill="#000" font-family='"Liberation Sans","Noto Sans CJK SC",sans-serif' text-anchor="start" >传感器和通讯线应使用屏蔽绞线.，并在一点接地，布线应远离强电走线；</text>
<text transform="translate(32.8 1015.5) scale(1 0.925)" font-size="24.8" font-weight="500" fill="#000" font-family='"Liberation Sans","Noto Sans CJK SC",sans-serif' text-anchor="start" >★</text>
<text transform="translate(74.2 1015.5) scale(1 0.925)" font-size="24.78" font-weight="500" fill="#000" font-family='"Liberation Sans","Noto Sans CJK SC",sans-serif' text-anchor="start" >不同外形尺寸仪表，接线图不尽相同，请以实物为准。</text>
<text transform="translate(32.8 1059.6) scale(1 0.925)" font-size="24.8" font-weight="500" fill="#000" font-family='"Liberation Sans","Noto Sans CJK SC",sans-serif' text-anchor="start" >★</text>
<text transform="translate(74.2 1059.6) scale(1 0.925)" font-size="24.78" font-weight="500" fill="#000" font-family='"Liberation Sans","Noto Sans CJK SC",sans-serif' text-anchor="start" stroke="#000" stroke-width="0.45" stroke-linejoin="round">仪表盘式安装：</text>
<text transform="translate(74.6 1103.2) scale(1 0.945)" font-size="24.27" font-weight="500" fill="#000" font-family='"Liberation Sans","Noto Sans CJK SC",sans-serif' text-anchor="start" stroke="#000" stroke-width="0.6" stroke-linejoin="round">根据仪表外形尺寸在表盘面上开孔，将仪表嵌入表盘，然后从表盘背面用固定支架</text>
<text transform="translate(22 1136.2) scale(1 0.945)" font-size="24.27" font-weight="500" fill="#000" font-family='"Liberation Sans","Noto Sans CJK SC",sans-serif' text-anchor="start" stroke="#000" stroke-width="0.6" stroke-linejoin="round">将仪表固定在表盘面上，如需安装多台仪表，要求仪表与仪表之间开孔间距</text>
<text transform="translate(825.2 1136.2) scale(1.28 0.945)" font-size="27" font-weight="400" fill="#000" font-family='"Liberation Sans","Noto Sans CJK SC",sans-serif' text-anchor="start" stroke="#000" stroke-width="0.6" stroke-linejoin="round">≥</text>
<text transform="translate(847.6 1136.2) scale(1 0.945)" font-size="25.5" font-weight="700" fill="#000" font-family='"Liberation Sans","Noto Sans CJK SC",sans-serif' text-anchor="start" textLength="73.5" lengthAdjust="spacingAndGlyphs" >38mm</text>
<text transform="translate(922 1136.2) scale(1 0.945)" font-size="24.27" font-weight="500" fill="#000" font-family='"Liberation Sans","Noto Sans CJK SC",sans-serif' text-anchor="start" stroke="#000" stroke-width="0.6" stroke-linejoin="round">，</text>
<text transform="translate(22 1169.2) scale(1 0.945)" font-size="24.27" font-weight="500" fill="#000" font-family='"Liberation Sans","Noto Sans CJK SC",sans-serif' text-anchor="start" stroke="#000" stroke-width="0.6" stroke-linejoin="round">以保证必要的散热及装卸空间。如下图所示：</text>
<text transform="translate(205.3 1232.3) scale(1 0.925)" font-size="26.3" font-weight="700" fill="#231815" font-family='"Liberation Serif","Noto Serif CJK SC",serif' text-anchor="start" >仪表侧面图</text>
<text transform="translate(666.8 1232.3) scale(1 0.925)" font-size="26.3" font-weight="700" fill="#231815" font-family='"Liberation Serif","Noto Serif CJK SC",serif' text-anchor="start" >仪表背面图</text>
<text transform="translate(33.2 1698.6) scale(1 0.92)" font-size="25.4" font-weight="500" fill="#000" font-family='"Liberation Sans","Noto Sans CJK SC",sans-serif' text-anchor="start" stroke="#000" stroke-width="0.6" stroke-linejoin="round">注：仪表的安装位置应尽量远离马达、变压器等有冲击和震动及电磁干扰的场合。</text>
<defs><clipPath id="wallclip"><rect x="158.7" y="1297.9" width="17" height="345.1"/></clipPath></defs>
<g clip-path="url(#wallclip)"><path d="M158.7 1288.15L175.7 1295.95 M158.7 1298.90L175.7 1306.70 M158.7 1309.65L175.7 1317.45 M158.7 1320.40L175.7 1328.20 M158.7 1331.15L175.7 1338.95 M158.7 1341.90L175.7 1349.70 M158.7 1352.65L175.7 1360.45 M158.7 1363.40L175.7 1371.20 M158.7 1374.15L175.7 1381.95 M158.7 1384.90L175.7 1392.70 M158.7 1395.65L175.7 1403.45 M158.7 1406.40L175.7 1414.20 M158.7 1417.15L175.7 1424.95 M158.7 1427.90L175.7 1435.70 M158.7 1438.65L175.7 1446.45 M158.7 1449.40L175.7 1457.20 M158.7 1460.15L175.7 1467.95 M158.7 1470.90L175.7 1478.70 M158.7 1481.65L175.7 1489.45 M158.7 1492.40L175.7 1500.20 M158.7 1503.15L175.7 1510.95 M158.7 1513.90L175.7 1521.70 M158.7 1524.65L175.7 1532.45 M158.7 1535.40L175.7 1543.20 M158.7 1546.15L175.7 1553.95 M158.7 1556.90L175.7 1564.70 M158.7 1567.65L175.7 1575.45 M158.7 1578.40L175.7 1586.20 M158.7 1589.15L175.7 1596.95 M158.7 1599.90L175.7 1607.70 M158.7 1610.65L175.7 1618.45 M158.7 1621.40L175.7 1629.20 M158.7 1632.15L175.7 1639.95 M158.7 1642.90L175.7 1650.70 " stroke="#231815" stroke-width="1.4" fill="none"/></g>
<rect x="158.7" y="1297.9" width="17" height="345.1" stroke="#231815" stroke-width="1.5" fill="none" />
<rect x="150.6" y="1338.3" width="8.1" height="256" fill="#d9dada"/>
<path d="M149.6 1337H131.4Q125.4 1337 125.4 1343V1595.4Q125.4 1601.4 131.4 1601.4H149.6Z" stroke="#231815" stroke-width="2.4" fill="none" />
<path d="M140.8 1337V1601.4" stroke="#231815" stroke-width="1.1" fill="none" />
<rect x="136.4" y="1348.8" width="4.2" height="22.8" stroke="#231815" stroke-width="1.1" fill="none" />
<rect x="136.4" y="1566.5" width="4.2" height="24" stroke="#231815" stroke-width="1.1" fill="none" />
<path d="M158.7 1342.9H394 M155 1594.5H394" stroke="#231815" stroke-width="2.2" fill="none" />
<path d="M187.7 1378.2H322.5L327.7 1383.4V1560.2H187.7Z" stroke="#8a8a8a" stroke-width="1" fill="none" />
<path d="M197.8 1343.1V1329.1Q222.5 1321.1 247.3 1329.1V1343.1Z" stroke="#231815" stroke-width="1.2" fill="#fff" />
<path d="M197.8 1329.1Q222.5 1321.1 247.3 1329.1" stroke="#231815" stroke-width="2" fill="none" />
<rect x="176.3" y="1333.7" width="21.2" height="5.2" fill="#fff" stroke="#231815" stroke-width="0.9"/>
<path d="M177.8 1334.7V1337.8999999999999 M179.9 1334.7V1337.8999999999999 M182.0 1334.7V1337.8999999999999 M184.1 1334.7V1337.8999999999999 M186.2 1334.7V1337.8999999999999 M188.3 1334.7V1337.8999999999999 M190.4 1334.7V1337.8999999999999 M192.5 1334.7V1337.8999999999999 M194.6 1334.7V1337.8999999999999 M196.7 1334.7V1337.8999999999999 " stroke="#231815" stroke-width="1.1" fill="none" />
<rect x="247.8" y="1334.1" width="8.4" height="4.4" fill="#fff" stroke="#231815" stroke-width="0.9"/>
<path d="M249.4 1334.8999999999999V1337.7 M251.5 1334.8999999999999V1337.7 M253.6 1334.8999999999999V1337.7 M255.7 1334.8999999999999V1337.7 " stroke="#231815" stroke-width="1.1" fill="none" />
<path d="M256.2 1331.8Q261 1332.3 261 1336.3Q261 1340.3 256.2 1340.8Z" stroke="#231815" stroke-width="0.9" fill="#fff" />
<path d="M197.8 1594.3V1608.3Q222.5 1616.3 247.3 1608.3V1594.3Z" stroke="#231815" stroke-width="1.2" fill="#fff" />
<path d="M197.8 1608.3Q222.5 1616.3 247.3 1608.3" stroke="#231815" stroke-width="2" fill="none" />
<rect x="176.3" y="1598.5" width="21.2" height="5.2" fill="#fff" stroke="#231815" stroke-width="0.9"/>
<path d="M177.8 1599.5V1602.6999999999998 M179.9 1599.5V1602.6999999999998 M182.0 1599.5V1602.6999999999998 M184.1 1599.5V1602.6999999999998 M186.2 1599.5V1602.6999999999998 M188.3 1599.5V1602.6999999999998 M190.4 1599.5V1602.6999999999998 M192.5 1599.5V1602.6999999999998 M194.6 1599.5V1602.6999999999998 M196.7 1599.5V1602.6999999999998 " stroke="#231815" stroke-width="1.1" fill="none" />
<rect x="247.8" y="1598.8999999999999" width="8.4" height="4.4" fill="#fff" stroke="#231815" stroke-width="0.9"/>
<path d="M249.4 1599.6999999999998V1602.5 M251.5 1599.6999999999998V1602.5 M253.6 1599.6999999999998V1602.5 M255.7 1599.6999999999998V1602.5 " stroke="#231815" stroke-width="1.1" fill="none" />
<path d="M256.2 1596.6Q261 1597.1 261 1601.1Q261 1605.1 256.2 1605.6Z" stroke="#231815" stroke-width="0.9" fill="#fff" />
<rect x="371.2" y="1342" width="22.8" height="254" fill="#231815"/>
<rect x="373.2" y="1345" width="18" height="1.8" fill="#f8f8f8"/>
<rect x="373.2" y="1591.4" width="18" height="1.8" fill="#f8f8f8"/>
<rect x="380.3" y="1349.80" width="10.1" height="14.1" fill="#f8f8f8"/>
<path d="M377.6 1351.10Q376.2 1356.80 377.6 1362.60Q378.8 1356.80 377.6 1351.10Z" fill="#f8f8f8"/>
<rect x="380.3" y="1370.20" width="10.1" height="14.1" fill="#f8f8f8"/>
<path d="M377.6 1371.50Q376.2 1377.20 377.6 1383.00Q378.8 1377.20 377.6 1371.50Z" fill="#f8f8f8"/>
<rect x="373.2" y="1367.20" width="17.2" height="0.9" fill="#d8d4d2"/>
<line x1="394" y1="1367.6000000000001" x2="408.2" y2="1367.6000000000001" stroke="#6f6a68" stroke-width="0.9" />
<rect x="380.3" y="1390.60" width="10.1" height="14.1" fill="#f8f8f8"/>
<path d="M377.6 1391.90Q376.2 1397.60 377.6 1403.40Q378.8 1397.60 377.6 1391.90Z" fill="#f8f8f8"/>
<rect x="373.2" y="1387.60" width="17.2" height="0.9" fill="#d8d4d2"/>
<line x1="394" y1="1388.0" x2="408.2" y2="1388.0" stroke="#6f6a68" stroke-width="0.9" />
<rect x="380.3" y="1411.00" width="10.1" height="14.1" fill="#f8f8f8"/>
<path d="M377.6 1412.30Q376.2 1418.00 377.6 1423.80Q378.8 1418.00 377.6 1412.30Z" fill="#f8f8f8"/>
<rect x="373.2" y="1408.00" width="17.2" height="0.9" fill="#d8d4d2"/>
<line x1="394" y1="1408.4" x2="408.2" y2="1408.4" stroke="#6f6a68" stroke-width="0.9" />
<rect x="380.3" y="1431.40" width="10.1" height="14.1" fill="#f8f8f8"/>
<path d="M377.6 1432.70Q376.2 1438.40 377.6 1444.20Q378.8 1438.40 377.6 1432.70Z" fill="#f8f8f8"/>
<rect x="373.2" y="1428.40" width="17.2" height="0.9" fill="#d8d4d2"/>
<line x1="394" y1="1428.8" x2="408.2" y2="1428.8" stroke="#6f6a68" stroke-width="0.9" />
<rect x="380.3" y="1451.80" width="10.1" height="14.1" fill="#f8f8f8"/>
<path d="M377.6 1453.10Q376.2 1458.80 377.6 1464.60Q378.8 1458.80 377.6 1453.10Z" fill="#f8f8f8"/>
<rect x="373.2" y="1448.80" width="17.2" height="0.9" fill="#d8d4d2"/>
<line x1="394" y1="1449.2" x2="408.2" y2="1449.2" stroke="#6f6a68" stroke-width="0.9" />
<rect x="380.3" y="1472.20" width="10.1" height="14.1" fill="#f8f8f8"/>
<path d="M377.6 1473.50Q376.2 1479.20 377.6 1485.00Q378.8 1479.20 377.6 1473.50Z" fill="#f8f8f8"/>
<rect x="373.2" y="1469.20" width="17.2" height="0.9" fill="#d8d4d2"/>
<line x1="394" y1="1469.6000000000001" x2="408.2" y2="1469.6000000000001" stroke="#6f6a68" stroke-width="0.9" />
<rect x="380.3" y="1492.60" width="10.1" height="14.1" fill="#f8f8f8"/>
<path d="M377.6 1493.90Q376.2 1499.60 377.6 1505.40Q378.8 1499.60 377.6 1493.90Z" fill="#f8f8f8"/>
<rect x="373.2" y="1489.60" width="17.2" height="0.9" fill="#d8d4d2"/>
<line x1="394" y1="1490.0" x2="408.2" y2="1490.0" stroke="#6f6a68" stroke-width="0.9" />
<rect x="380.3" y="1513.00" width="10.1" height="14.1" fill="#f8f8f8"/>
<path d="M377.6 1514.30Q376.2 1520.00 377.6 1525.80Q378.8 1520.00 377.6 1514.30Z" fill="#f8f8f8"/>
<rect x="373.2" y="1510.00" width="17.2" height="0.9" fill="#d8d4d2"/>
<line x1="394" y1="1510.4" x2="408.2" y2="1510.4" stroke="#6f6a68" stroke-width="0.9" />
<rect x="380.3" y="1533.40" width="10.1" height="14.1" fill="#f8f8f8"/>
<path d="M377.6 1534.70Q376.2 1540.40 377.6 1546.20Q378.8 1540.40 377.6 1534.70Z" fill="#f8f8f8"/>
<rect x="373.2" y="1530.40" width="17.2" height="0.9" fill="#d8d4d2"/>
<line x1="394" y1="1530.8" x2="408.2" y2="1530.8" stroke="#6f6a68" stroke-width="0.9" />
<rect x="380.3" y="1553.80" width="10.1" height="14.1" fill="#f8f8f8"/>
<path d="M377.6 1555.10Q376.2 1560.80 377.6 1566.60Q378.8 1560.80 377.6 1555.10Z" fill="#f8f8f8"/>
<rect x="373.2" y="1550.80" width="17.2" height="0.9" fill="#d8d4d2"/>
<line x1="394" y1="1551.2" x2="408.2" y2="1551.2" stroke="#6f6a68" stroke-width="0.9" />
<rect x="380.3" y="1574.20" width="10.1" height="14.1" fill="#f8f8f8"/>
<path d="M377.6 1575.50Q376.2 1581.20 377.6 1587.00Q378.8 1581.20 377.6 1575.50Z" fill="#f8f8f8"/>
<rect x="373.2" y="1571.20" width="17.2" height="0.9" fill="#d8d4d2"/>
<line x1="394" y1="1571.6" x2="408.2" y2="1571.6" stroke="#6f6a68" stroke-width="0.9" />
<path d="M394 1349.2H408.2 M394 1588.3H408.2" stroke="#231815" stroke-width="1.8" fill="none" />
<path d="M408.2 1343.4Q413 1342.2 417.7 1343.4V1594.8L413 1597.2L408.2 1594.8Z" fill="#231815"/>
<text transform="translate(138 1289.3) scale(1 0.93)" font-size="18.1" font-weight="400" fill="#231815" font-family='"Liberation Sans","Noto Sans CJK SC",sans-serif' text-anchor="start" >仪表盘</text>
<text transform="translate(59 1354.6) scale(1 0.93)" font-size="17.5" font-weight="400" fill="#231815" font-family='"Liberation Sans","Noto Sans CJK SC",sans-serif' text-anchor="start" >面板</text>
<path d="M57.2 1359.8H94.3" stroke="#231815" stroke-width="1.9" fill="none" stroke-dasharray="5 5.6"/>
<path d="M94.3 1359.8L131.3 1394.3" stroke="#231815" stroke-width="1.9" fill="none" stroke-dasharray="8.3 2.3"/>
<circle cx="131.3" cy="1394.3" r="3.5" fill="#231815"/>
<text transform="translate(314.3 1327.2) scale(1 0.93)" font-size="18.4" font-weight="400" fill="#231815" font-family='"Liberation Sans","Noto Sans CJK SC",sans-serif' text-anchor="start" >标签</text>
<path d="M306.5 1331.3H353.1" stroke="#231815" stroke-width="1.9" fill="none" stroke-dasharray="5 5.6"/>
<path d="M306.5 1331.3L262.6 1384.4" stroke="#231815" stroke-width="1.9" fill="none" stroke-dasharray="8.3 2.3"/>
<circle cx="262.6" cy="1384.6" r="3.5" fill="#231815"/>
<text transform="translate(448.8 1345.4) scale(1 0.93)" font-size="18.2" font-weight="400" fill="#231815" font-family='"Liberation Sans","Noto Sans CJK SC",sans-serif' text-anchor="start" >接线盖</text>
<path d="M446.4 1351H504.4" stroke="#231815" stroke-width="1.9" fill="none" stroke-dasharray="5 5.6"/>
<path d="M446.4 1351L417.7 1377.3" stroke="#231815" stroke-width="1.9" fill="none" stroke-dasharray="8.3 2.3"/>
<text transform="translate(69.8 1618.6) scale(1 0.93)" font-size="18.1" font-weight="400" fill="#231815" font-family='"Liberation Sans","Noto Sans CJK SC",sans-serif' text-anchor="start" >密封垫</text>
<path d="M67.3 1625.1H148" stroke="#231815" stroke-width="1.9" fill="none" stroke-dasharray="5 5.6"/>
<path d="M148 1625.1L154.9 1593.5" stroke="#231815" stroke-width="1.9" fill="none" stroke-dasharray="8.3 2.3"/>
<circle cx="154.9" cy="1593.5" r="3.6" fill="#231815"/>
<text transform="translate(253.2 1628.3) scale(1 0.93)" font-size="18.2" font-weight="400" fill="#231815" font-family='"Liberation Sans","Noto Sans CJK SC",sans-serif' text-anchor="start" >固定支架</text>
<path d="M238.2 1634.7H324.7" stroke="#231815" stroke-width="1.9" fill="none" stroke-dasharray="5 5.6"/>
<path d="M238.2 1634.7L231.9 1603.1" stroke="#231815" stroke-width="1.9" fill="none" stroke-dasharray="8.3 2.3"/>
<circle cx="231.9" cy="1603.1" r="3.6" fill="#231815"/>
<rect x="638.9" y="1305.2" width="27.0" height="20.77" stroke="#231815" stroke-width="1.5" fill="none" />
<rect x="651.10" y="1307.60" width="2.6" height="16" fill="#d4d4d4"/>
<circle cx="652.4" cy="1315.6000000000001" r="8.3" stroke="#5a5553" stroke-width="0.85" fill="none"/>
<path d="M651.05 1307.41V1314.35H644.19M653.75 1307.41V1314.35H660.61M651.05 1323.79V1316.85H644.19M653.75 1323.79V1316.85H660.61" stroke="#5a5553" stroke-width="0.85" fill="none" />
<rect x="638.9" y="1325.97" width="27.0" height="20.77" stroke="#231815" stroke-width="1.5" fill="none" />
<rect x="651.10" y="1328.37" width="2.6" height="16" fill="#d4d4d4"/>
<circle cx="652.4" cy="1336.3700000000001" r="8.3" stroke="#5a5553" stroke-width="0.85" fill="none"/>
<path d="M651.05 1328.18V1335.12H644.19M653.75 1328.18V1335.12H660.61M651.05 1344.56V1337.62H644.19M653.75 1344.56V1337.62H660.61" stroke="#5a5553" stroke-width="0.85" fill="none" />
<rect x="638.9" y="1346.74" width="27.0" height="20.77" stroke="#231815" stroke-width="1.5" fill="none" />
<rect x="651.10" y="1349.14" width="2.6" height="16" fill="#d4d4d4"/>
<circle cx="652.4" cy="1357.14" r="8.3" stroke="#5a5553" stroke-width="0.85" fill="none"/>
<path d="M651.05 1348.95V1355.89H644.19M653.75 1348.95V1355.89H660.61M651.05 1365.33V1358.39H644.19M653.75 1365.33V1358.39H660.61" stroke="#5a5553" stroke-width="0.85" fill="none" />
<rect x="638.9" y="1367.51" width="27.0" height="20.77" stroke="#231815" stroke-width="1.5" fill="none" />
<rect x="651.10" y="1369.91" width="2.6" height="16" fill="#d4d4d4"/>
<circle cx="652.4" cy="1377.91" r="8.3" stroke="#5a5553" stroke-width="0.85" fill="none"/>
<path d="M651.05 1369.72V1376.66H644.19M653.75 1369.72V1376.66H660.61M651.05 1386.10V1379.16H644.19M653.75 1386.10V1379.16H660.61" stroke="#5a5553" stroke-width="0.85" fill="none" />
<rect x="638.9" y="1388.28" width="27.0" height="20.77" stroke="#231815" stroke-width="1.5" fill="none" />
<rect x="651.10" y="1390.68" width="2.6" height="16" fill="#d4d4d4"/>
<circle cx="652.4" cy="1398.68" r="8.3" stroke="#5a5553" stroke-width="0.85" fill="none"/>
<path d="M651.05 1390.49V1397.43H644.19M653.75 1390.49V1397.43H660.61M651.05 1406.87V1399.93H644.19M653.75 1406.87V1399.93H660.61" stroke="#5a5553" stroke-width="0.85" fill="none" />
<rect x="638.9" y="1409.05" width="27.0" height="20.77" stroke="#231815" stroke-width="1.5" fill="none" />
<rect x="651.10" y="1411.45" width="2.6" height="16" fill="#d4d4d4"/>
<circle cx="652.4" cy="1419.45" r="8.3" stroke="#5a5553" stroke-width="0.85" fill="none"/>
<path d="M651.05 1411.26V1418.20H644.19M653.75 1411.26V1418.20H660.61M651.05 1427.64V1420.70H644.19M653.75 1427.64V1420.70H660.61" stroke="#5a5553" stroke-width="0.85" fill="none" />
<rect x="638.9" y="1429.8200000000002" width="27.0" height="20.77" stroke="#231815" stroke-width="1.5" fill="none" />
<rect x="651.10" y="1432.22" width="2.6" height="16" fill="#d4d4d4"/>
<circle cx="652.4" cy="1440.2200000000003" r="8.3" stroke="#5a5553" stroke-width="0.85" fill="none"/>
<path d="M651.05 1432.03V1438.97H644.19M653.75 1432.03V1438.97H660.61M651.05 1448.41V1441.47H644.19M653.75 1448.41V1441.47H660.61" stroke="#5a5553" stroke-width="0.85" fill="none" />
<rect x="638.9" y="1450.5900000000001" width="27.0" height="20.77" stroke="#231815" stroke-width="1.5" fill="none" />
<rect x="651.10" y="1452.99" width="2.6" height="16" fill="#d4d4d4"/>
<circle cx="652.4" cy="1460.9900000000002" r="8.3" stroke="#5a5553" stroke-width="0.85" fill="none"/>
<path d="M651.05 1452.80V1459.74H644.19M653.75 1452.80V1459.74H660.61M651.05 1469.18V1462.24H644.19M653.75 1469.18V1462.24H660.61" stroke="#5a5553" stroke-width="0.85" fill="none" />
<rect x="638.9" y="1471.3600000000001" width="27.0" height="20.77" stroke="#231815" stroke-width="1.5" fill="none" />
<rect x="651.10" y="1473.76" width="2.6" height="16" fill="#d4d4d4"/>
<circle cx="652.4" cy="1481.7600000000002" r="8.3" stroke="#5a5553" stroke-width="0.85" fill="none"/>
<path d="M651.05 1473.57V1480.51H644.19M653.75 1473.57V1480.51H660.61M651.05 1489.95V1483.01H644.19M653.75 1489.95V1483.01H660.61" stroke="#5a5553" stroke-width="0.85" fill="none" />
<rect x="638.9" y="1492.13" width="27.0" height="20.77" stroke="#231815" stroke-width="1.5" fill="none" />
<rect x="651.10" y="1494.53" width="2.6" height="16" fill="#d4d4d4"/>
<circle cx="652.4" cy="1502.5300000000002" r="8.3" stroke="#5a5553" stroke-width="0.85" fill="none"/>
<path d="M651.05 1494.34V1501.28H644.19M653.75 1494.34V1501.28H660.61M651.05 1510.72V1503.78H644.19M653.75 1510.72V1503.78H660.61" stroke="#5a5553" stroke-width="0.85" fill="none" />
<rect x="638.9" y="1512.9" width="27.0" height="20.77" stroke="#231815" stroke-width="1.5" fill="none" />
<rect x="651.10" y="1515.30" width="2.6" height="16" fill="#d4d4d4"/>
<circle cx="652.4" cy="1523.3000000000002" r="8.3" stroke="#5a5553" stroke-width="0.85" fill="none"/>
<path d="M651.05 1515.11V1522.05H644.19M653.75 1515.11V1522.05H660.61M651.05 1531.49V1524.55H644.19M653.75 1531.49V1524.55H660.61" stroke="#5a5553" stroke-width="0.85" fill="none" />
<rect x="638.9" y="1533.67" width="27.0" height="20.77" stroke="#231815" stroke-width="1.5" fill="none" />
<rect x="651.10" y="1536.07" width="2.6" height="16" fill="#d4d4d4"/>
<circle cx="652.4" cy="1544.0700000000002" r="8.3" stroke="#5a5553" stroke-width="0.85" fill="none"/>
<path d="M651.05 1535.88V1542.82H644.19M653.75 1535.88V1542.82H660.61M651.05 1552.26V1545.32H644.19M653.75 1552.26V1545.32H660.61" stroke="#5a5553" stroke-width="0.85" fill="none" />
<rect x="776.7" y="1305.2" width="26.699999999999932" height="20.77" stroke="#231815" stroke-width="1.5" fill="none" />
<rect x="788.75" y="1307.60" width="2.6" height="16" fill="#d4d4d4"/>
<circle cx="790.05" cy="1315.6000000000001" r="8.3" stroke="#5a5553" stroke-width="0.85" fill="none"/>
<path d="M788.70 1307.41V1314.35H781.84M791.40 1307.41V1314.35H798.26M788.70 1323.79V1316.85H781.84M791.40 1323.79V1316.85H798.26" stroke="#5a5553" stroke-width="0.85" fill="none" />
<rect x="776.7" y="1325.97" width="26.699999999999932" height="20.77" stroke="#231815" stroke-width="1.5" fill="none" />
<rect x="788.75" y="1328.37" width="2.6" height="16" fill="#d4d4d4"/>
<circle cx="790.05" cy="1336.3700000000001" r="8.3" stroke="#5a5553" stroke-width="0.85" fill="none"/>
<path d="M788.70 1328.18V1335.12H781.84M791.40 1328.18V1335.12H798.26M788.70 1344.56V1337.62H781.84M791.40 1344.56V1337.62H798.26" stroke="#5a5553" stroke-width="0.85" fill="none" />
<rect x="776.7" y="1346.74" width="26.699999999999932" height="20.77" stroke="#231815" stroke-width="1.5" fill="none" />
<rect x="788.75" y="1349.14" width="2.6" height="16" fill="#d4d4d4"/>
<circle cx="790.05" cy="1357.14" r="8.3" stroke="#5a5553" stroke-width="0.85" fill="none"/>
<path d="M788.70 1348.95V1355.89H781.84M791.40 1348.95V1355.89H798.26M788.70 1365.33V1358.39H781.84M791.40 1365.33V1358.39H798.26" stroke="#5a5553" stroke-width="0.85" fill="none" />
<rect x="776.7" y="1367.51" width="26.699999999999932" height="20.77" stroke="#231815" stroke-width="1.5" fill="none" />
<rect x="788.75" y="1369.91" width="2.6" height="16" fill="#d4d4d4"/>
<circle cx="790.05" cy="1377.91" r="8.3" stroke="#5a5553" stroke-width="0.85" fill="none"/>
<path d="M788.70 1369.72V1376.66H781.84M791.40 1369.72V1376.66H798.26M788.70 1386.10V1379.16H781.84M791.40 1386.10V1379.16H798.26" stroke="#5a5553" stroke-width="0.85" fill="none" />
<rect x="776.7" y="1388.28" width="26.699999999999932" height="20.77" stroke="#231815" stroke-width="1.5" fill="none" />
<rect x="788.75" y="1390.68" width="2.6" height="16" fill="#d4d4d4"/>
<circle cx="790.05" cy="1398.68" r="8.3" stroke="#5a5553" stroke-width="0.85" fill="none"/>
<path d="M788.70 1390.49V1397.43H781.84M791.40 1390.49V1397.43H798.26M788.70 1406.87V1399.93H781.84M791.40 1406.87V1399.93H798.26" stroke="#5a5553" stroke-width="0.85" fill="none" />
<rect x="776.7" y="1409.05" width="26.699999999999932" height="20.77" stroke="#231815" stroke-width="1.5" fill="none" />
<rect x="788.75" y="1411.45" width="2.6" height="16" fill="#d4d4d4"/>
<circle cx="790.05" cy="1419.45" r="8.3" stroke="#5a5553" stroke-width="0.85" fill="none"/>
<path d="M788.70 1411.26V1418.20H781.84M791.40 1411.26V1418.20H798.26M788.70 1427.64V1420.70H781.84M791.40 1427.64V1420.70H798.26" stroke="#5a5553" stroke-width="0.85" fill="none" />
<rect x="776.7" y="1429.8200000000002" width="26.699999999999932" height="20.77" stroke="#231815" stroke-width="1.5" fill="none" />
<rect x="788.75" y="1432.22" width="2.6" height="16" fill="#d4d4d4"/>
<circle cx="790.05" cy="1440.2200000000003" r="8.3" stroke="#5a5553" stroke-width="0.85" fill="none"/>
<path d="M788.70 1432.03V1438.97H781.84M791.40 1432.03V1438.97H798.26M788.70 1448.41V1441.47H781.84M791.40 1448.41V1441.47H798.26" stroke="#5a5553" stroke-width="0.85" fill="none" />
<rect x="776.7" y="1450.5900000000001" width="26.699999999999932" height="20.77" stroke="#231815" stroke-width="1.5" fill="none" />
<rect x="788.75" y="1452.99" width="2.6" height="16" fill="#d4d4d4"/>
<circle cx="790.05" cy="1460.9900000000002" r="8.3" stroke="#5a5553" stroke-width="0.85" fill="none"/>
<path d="M788.70 1452.80V1459.74H781.84M791.40 1452.80V1459.74H798.26M788.70 1469.18V1462.24H781.84M791.40 1469.18V1462.24H798.26" stroke="#5a5553" stroke-width="0.85" fill="none" />
<rect x="776.7" y="1471.3600000000001" width="26.699999999999932" height="20.77" stroke="#231815" stroke-width="1.5" fill="none" />
<rect x="788.75" y="1473.76" width="2.6" height="16" fill="#d4d4d4"/>
<circle cx="790.05" cy="1481.7600000000002" r="8.3" stroke="#5a5553" stroke-width="0.85" fill="none"/>
<path d="M788.70 1473.57V1480.51H781.84M791.40 1473.57V1480.51H798.26M788.70 1489.95V1483.01H781.84M791.40 1489.95V1483.01H798.26" stroke="#5a5553" stroke-width="0.85" fill="none" />
<rect x="776.7" y="1492.13" width="26.699999999999932" height="20.77" stroke="#231815" stroke-width="1.5" fill="none" />
<rect x="788.75" y="1494.53" width="2.6" height="16" fill="#d4d4d4"/>
<circle cx="790.05" cy="1502.5300000000002" r="8.3" stroke="#5a5553" stroke-width="0.85" fill="none"/>
<path d="M788.70 1494.34V1501.28H781.84M791.40 1494.34V1501.28H798.26M788.70 1510.72V1503.78H781.84M791.40 1510.72V1503.78H798.26" stroke="#5a5553" stroke-width="0.85" fill="none" />
<rect x="776.7" y="1512.9" width="26.699999999999932" height="20.77" stroke="#231815" stroke-width="1.5" fill="none" />
<rect x="788.75" y="1515.30" width="2.6" height="16" fill="#d4d4d4"/>
<circle cx="790.05" cy="1523.3000000000002" r="8.3" stroke="#5a5553" stroke-width="0.85" fill="none"/>
<path d="M788.70 1515.11V1522.05H781.84M791.40 1515.11V1522.05H798.26M788.70 1531.49V1524.55H781.84M791.40 1531.49V1524.55H798.26" stroke="#5a5553" stroke-width="0.85" fill="none" />
<rect x="776.7" y="1533.67" width="26.699999999999932" height="20.77" stroke="#231815" stroke-width="1.5" fill="none" />
<rect x="788.75" y="1536.07" width="2.6" height="16" fill="#d4d4d4"/>
<circle cx="790.05" cy="1544.0700000000002" r="8.3" stroke="#5a5553" stroke-width="0.85" fill="none"/>
<path d="M788.70 1535.88V1542.82H781.84M791.40 1535.88V1542.82H798.26M788.70 1552.26V1545.32H781.84M791.40 1552.26V1545.32H798.26" stroke="#5a5553" stroke-width="0.85" fill="none" />
<rect x="803.4" y="1305.2" width="28.0" height="20.77" stroke="#231815" stroke-width="1.5" fill="none" />
<rect x="816.10" y="1307.60" width="2.6" height="16" fill="#d4d4d4"/>
<circle cx="817.4" cy="1315.6000000000001" r="8.3" stroke="#5a5553" stroke-width="0.85" fill="none"/>
<path d="M816.05 1307.41V1314.35H809.19M818.75 1307.41V1314.35H825.61M816.05 1323.79V1316.85H809.19M818.75 1323.79V1316.85H825.61" stroke="#5a5553" stroke-width="0.85" fill="none" />
<rect x="803.4" y="1325.97" width="28.0" height="20.77" stroke="#231815" stroke-width="1.5" fill="none" />
<rect x="816.10" y="1328.37" width="2.6" height="16" fill="#d4d4d4"/>
<circle cx="817.4" cy="1336.3700000000001" r="8.3" stroke="#5a5553" stroke-width="0.85" fill="none"/>
<path d="M816.05 1328.18V1335.12H809.19M818.75 1328.18V1335.12H825.61M816.05 1344.56V1337.62H809.19M818.75 1344.56V1337.62H825.61" stroke="#5a5553" stroke-width="0.85" fill="none" />
<rect x="803.4" y="1346.74" width="28.0" height="20.77" stroke="#231815" stroke-width="1.5" fill="none" />
<rect x="816.10" y="1349.14" width="2.6" height="16" fill="#d4d4d4"/>
<circle cx="817.4" cy="1357.14" r="8.3" stroke="#5a5553" stroke-width="0.85" fill="none"/>
<path d="M816.05 1348.95V1355.89H809.19M818.75 1348.95V1355.89H825.61M816.05 1365.33V1358.39H809.19M818.75 1365.33V1358.39H825.61" stroke="#5a5553" stroke-width="0.85" fill="none" />
<rect x="803.4" y="1367.51" width="28.0" height="20.77" stroke="#231815" stroke-width="1.5" fill="none" />
<rect x="816.10" y="1369.91" width="2.6" height="16" fill="#d4d4d4"/>
<circle cx="817.4" cy="1377.91" r="8.3" stroke="#5a5553" stroke-width="0.85" fill="none"/>
<path d="M816.05 1369.72V1376.66H809.19M818.75 1369.72V1376.66H825.61M816.05 1386.10V1379.16H809.19M818.75 1386.10V1379.16H825.61" stroke="#5a5553" stroke-width="0.85" fill="none" />
<rect x="803.4" y="1388.28" width="28.0" height="20.77" stroke="#231815" stroke-width="1.5" fill="none" />
<rect x="816.10" y="1390.68" width="2.6" height="16" fill="#d4d4d4"/>
<circle cx="817.4" cy="1398.68" r="8.3" stroke="#5a5553" stroke-width="0.85" fill="none"/>
<path d="M816.05 1390.49V1397.43H809.19M818.75 1390.49V1397.43H825.61M816.05 1406.87V1399.93H809.19M818.75 1406.87V1399.93H825.61" stroke="#5a5553" stroke-width="0.85" fill="none" />
<rect x="803.4" y="1409.05" width="28.0" height="20.77" stroke="#231815" stroke-width="1.5" fill="none" />
<rect x="816.10" y="1411.45" width="2.6" height="16" fill="#d4d4d4"/>
<circle cx="817.4" cy="1419.45" r="8.3" stroke="#5a5553" stroke-width="0.85" fill="none"/>
<path d="M816.05 1411.26V1418.20H809.19M818.75 1411.26V1418.20H825.61M816.05 1427.64V1420.70H809.19M818.75 1427.64V1420.70H825.61" stroke="#5a5553" stroke-width="0.85" fill="none" />
<rect x="803.4" y="1429.8200000000002" width="28.0" height="20.77" stroke="#231815" stroke-width="1.5" fill="none" />
<rect x="816.10" y="1432.22" width="2.6" height="16" fill="#d4d4d4"/>
<circle cx="817.4" cy="1440.2200000000003" r="8.3" stroke="#5a5553" stroke-width="0.85" fill="none"/>
<path d="M816.05 1432.03V1438.97H809.19M818.75 1432.03V1438.97H825.61M816.05 1448.41V1441.47H809.19M818.75 1448.41V1441.47H825.61" stroke="#5a5553" stroke-width="0.85" fill="none" />
<rect x="803.4" y="1450.5900000000001" width="28.0" height="20.77" stroke="#231815" stroke-width="1.5" fill="none" />
<rect x="816.10" y="1452.99" width="2.6" height="16" fill="#d4d4d4"/>
<circle cx="817.4" cy="1460.9900000000002" r="8.3" stroke="#5a5553" stroke-width="0.85" fill="none"/>
<path d="M816.05 1452.80V1459.74H809.19M818.75 1452.80V1459.74H825.61M816.05 1469.18V1462.24H809.19M818.75 1469.18V1462.24H825.61" stroke="#5a5553" stroke-width="0.85" fill="none" />
<rect x="803.4" y="1471.3600000000001" width="28.0" height="20.77" stroke="#231815" stroke-width="1.5" fill="none" />
<rect x="816.10" y="1473.76" width="2.6" height="16" fill="#d4d4d4"/>
<circle cx="817.4" cy="1481.7600000000002" r="8.3" stroke="#5a5553" stroke-width="0.85" fill="none"/>
<path d="M816.05 1473.57V1480.51H809.19M818.75 1473.57V1480.51H825.61M816.05 1489.95V1483.01H809.19M818.75 1489.95V1483.01H825.61" stroke="#5a5553" stroke-width="0.85" fill="none" />
<rect x="803.4" y="1492.13" width="28.0" height="20.77" stroke="#231815" stroke-width="1.5" fill="none" />
<rect x="816.10" y="1494.53" width="2.6" height="16" fill="#d4d4d4"/>
<circle cx="817.4" cy="1502.5300000000002" r="8.3" stroke="#5a5553" stroke-width="0.85" fill="none"/>
<path d="M816.05 1494.34V1501.28H809.19M818.75 1494.34V1501.28H825.61M816.05 1510.72V1503.78H809.19M818.75 1510.72V1503.78H825.61" stroke="#5a5553" stroke-width="0.85" fill="none" />
<rect x="803.4" y="1512.9" width="28.0" height="20.77" stroke="#231815" stroke-width="1.5" fill="none" />
<rect x="816.10" y="1515.30" width="2.6" height="16" fill="#d4d4d4"/>
<circle cx="817.4" cy="1523.3000000000002" r="8.3" stroke="#5a5553" stroke-width="0.85" fill="none"/>
<path d="M816.05 1515.11V1522.05H809.19M818.75 1515.11V1522.05H825.61M816.05 1531.49V1524.55H809.19M818.75 1531.49V1524.55H825.61" stroke="#5a5553" stroke-width="0.85" fill="none" />
<rect x="803.4" y="1533.67" width="28.0" height="20.77" stroke="#231815" stroke-width="1.5" fill="none" />
<rect x="816.10" y="1536.07" width="2.6" height="16" fill="#d4d4d4"/>
<circle cx="817.4" cy="1544.0700000000002" r="8.3" stroke="#5a5553" stroke-width="0.85" fill="none"/>
<path d="M816.05 1535.88V1542.82H809.19M818.75 1535.88V1542.82H825.61M816.05 1552.26V1545.32H809.19M818.75 1552.26V1545.32H825.61" stroke="#5a5553" stroke-width="0.85" fill="none" />
<rect x="638.9" y="1305.2" width="192.5" height="249.2" stroke="#163a52" stroke-width="1.7" fill="none" />
<path d="M723.4 1305.2V1316Q723.4 1321.9 732 1321.9Q740.4 1321.9 740.4 1316V1305.2" stroke="#5a5553" stroke-width="0.9" fill="none" />
<path d="M723.7 1554.4V1544Q723.7 1538.3 729.5 1538.3H735Q740.8 1538.3 740.8 1544V1554.4" stroke="#231815" stroke-width="1" fill="none" />
<g transform="translate(620.7,1321.8) rotate(-45)"><path d="M-8.3 0V9.5Q-8.3 16.5 0 16.5Q8.3 16.5 8.3 9.5V0" stroke="#5a5553" stroke-width="0.9" fill="none"/></g>
<path d="M691.4 1250.6L867.6 1426.6L732.3 1562.7L555.6 1386.5Z" stroke="#231815" stroke-width="1.5" fill="none" />
<circle cx="732.4" cy="1546.2" r="3.2" fill="#231815"/>
<path d="M549.2 1361.7C518 1361 517 1395 539 1408" stroke="#231815" stroke-width="2" fill="none" />
<path d="M534.3 1412.8L547.8 1412.8L541 1402.2Z" stroke="#231815" stroke-width="1" fill="#231815" />
<text transform="translate(514 1305.2) scale(1 0.93)" font-size="18.1" font-weight="400" fill="#231815" font-family='"Liberation Sans","Noto Sans CJK SC",sans-serif' text-anchor="start" >接线盖</text>
<path d="M513.9 1313.2H570.7" stroke="#231815" stroke-width="1.9" fill="none" stroke-dasharray="5 5.6"/>
<path d="M570.7 1313.2L603.5 1349.8" stroke="#231815" stroke-width="1.9" fill="none" stroke-dasharray="8.3 2.3"/>
<circle cx="603.5" cy="1349.8" r="3.5" fill="#231815"/>
<text transform="translate(851.6 1291.6) scale(1 0.93)" font-size="17.9" font-weight="400" fill="#231815" font-family='"Liberation Sans","Noto Sans CJK SC",sans-serif' text-anchor="start" >接线端子</text>
<path d="M851.5 1303H917.7" stroke="#231815" stroke-width="1.9" fill="none" stroke-dasharray="5 5.6"/>
<path d="M851.5 1303L816.2 1335.3" stroke="#231815" stroke-width="1.9" fill="none" stroke-dasharray="8.3 2.3"/>
<circle cx="816.2" cy="1335.3" r="3.3" fill="#231815"/>
<text transform="translate(771.4 1585.8) scale(1 0.93)" font-size="18" font-weight="400" fill="#231815" font-family='"Liberation Sans","Noto Sans CJK SC",sans-serif' text-anchor="start" >固定螺丝孔</text>
<path d="M765.7 1590.3H864.2" stroke="#231815" stroke-width="1.9" fill="none" stroke-dasharray="5 5.6"/>
<path d="M765.7 1590.3L732.4 1546.2" stroke="#231815" stroke-width="1.9" fill="none" stroke-dasharray="5 4.5"/>
</svg>
</body>
</html>
